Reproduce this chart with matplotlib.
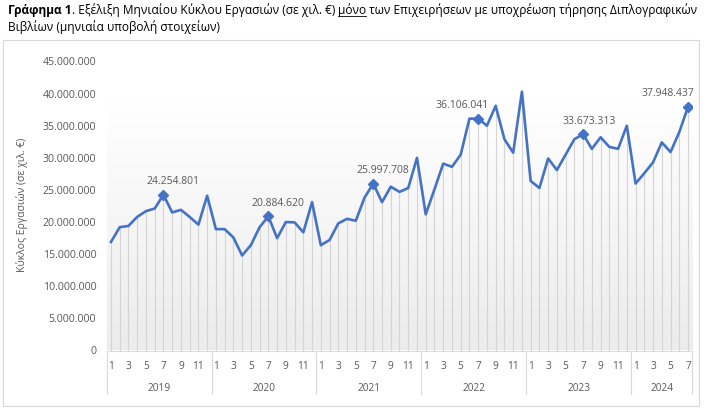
import numpy as np
import matplotlib
matplotlib.use('Agg')
import matplotlib.pyplot as plt
from matplotlib.patches import Rectangle
from matplotlib.lines import Line2D

plt.rcParams['font.family'] = ['Open Sans', 'DejaVu Sans']

# Δεδομένα: μηνιαίος κύκλος εργασιών (εκατ.), Ιαν 2019 - Ιουλ 2024
years = ['2019', '2020', '2021', '2022', '2023', '2024']
months_per_year = [12, 12, 12, 12, 12, 7]
v2019 = [16.9, 19.2, 19.4, 20.8, 21.7, 22.1, 24.254801, 21.5, 21.9, 20.8, 19.6, 24.1]
v2020 = [18.9, 18.9, 17.6, 14.8, 16.4, 19.2, 20.884620, 17.5, 20.0, 19.95, 18.4, 23.1]
v2021 = [16.4, 17.2, 19.8, 20.5, 20.2, 23.8, 25.997708, 23.1, 25.5, 24.7, 25.3, 30.0]
v2022 = [21.2, 25.1, 29.1, 28.6, 30.5, 36.1, 36.106041, 35.0, 38.1, 32.9, 30.8, 40.3]
v2023 = [26.4, 25.3, 29.9, 28.1, 30.5, 32.9, 33.673313, 31.4, 33.2, 31.7, 31.4, 35.0]
v2024 = [26.0, 27.6, 29.3, 32.4, 30.9, 34.0, 37.948437]
y_ticks = [0, 5, 10, 15, 20, 25, 30, 35, 40, 45]

values = np.array(v2019 + v2020 + v2021 + v2022 + v2023 + v2024) * 1e6
months = [m for n in months_per_year for m in range(1, n + 1)]
x = np.arange(len(values))
july = [i for i, m in enumerate(months) if m == 7]
# οριζόντια μετατόπιση ετικετών (pt), όπως στο πρωτότυπο
label_dx = [7, 7, 7, -11.5, 4.5, -14.5]

W, H = 708, 416
fig = plt.figure(figsize=(W / 100, H / 100), dpi=100)

# πλαίσιο γραφήματος
fig.patches.append(Rectangle((3 / W, 1 - 406 / H), 696 / W, 366 / H, transform=fig.transFigure,
                             fill=False, edgecolor='#d9d9d9', lw=0.8))

left, right, top, bottom = 106.6, 692.4, 61.5, 350.5
ax = fig.add_axes([left / W, 1 - bottom / H, (right - left) / W, (bottom - top) / H])
ax.set_xlim(-0.5, len(values) - 0.5)
ax.set_ylim(0, 45e6)

# διαβάθμιση φόντου
grad = np.linspace(1.0, 0.0, 256).reshape(-1, 1)
c_top = np.array([1.0, 1.0, 1.0])
c_bot = np.array([0.925, 0.925, 0.925])
img = c_bot + (c_top - c_bot) * grad[..., None]
ax.imshow(img, extent=(-0.5, len(values) - 0.5, 0, 39e6), aspect='auto', zorder=0)

ax.vlines(x, 0, values, color='#d4d4d4', lw=0.8, zorder=1)
ax.plot(x, values, color='#4472C4', lw=1.9, zorder=3, solid_joinstyle='round')
ax.plot(x[july], values[july], 'D', color='#4472C4', ms=5.5, zorder=4)

for i, dx in zip(july, label_dx):
    lbl = f"{round(values[i]):,}".replace(',', '.')
    ax.annotate(lbl, (x[i], values[i]), textcoords='offset points', xytext=(dx, 5.5),
                ha='center', va='bottom', fontsize=7.5, color='#595959', zorder=5)

for s in ['left', 'right', 'top']:
    ax.spines[s].set_visible(False)
ax.spines['bottom'].set_color('#d9d9d9')

ax.set_yticks([t * 1e6 for t in y_ticks])
ax.set_yticklabels([f"{t * 1000000:,}".replace(',', '.') for t in y_ticks])
ax.tick_params(axis='y', length=0, pad=7.5, labelsize=7.6, labelcolor='#595959')
ax.set_xticks([])

# άξονας κατηγοριών δύο επιπέδων
for i, m in enumerate(months):
    if m % 2 == 1:
        ax.annotate(str(m), (x[i], 0), xycoords=('data', 'axes fraction'),
                    textcoords='offset points', xytext=(0, -11.5), ha='center', va='center',
                    fontsize=7.3, color='#595959', annotation_clip=False)
start = 0
for yr, n in zip(years, months_per_year):
    ax.annotate(yr, (start + (n - 1) / 2, 0), xycoords=('data', 'axes fraction'),
                textcoords='offset points', xytext=(0, -27.5), ha='center', va='center',
                fontsize=7.3, color='#595959', annotation_clip=False)
    start += n
edges = [-0.5] + list(np.cumsum(months_per_year) - 0.5)
for e in edges:
    ax.plot([e, e], [0, -43 / (bottom - top)], transform=ax.get_xaxis_transform(),
            color='#d9d9d9', lw=0.8, clip_on=False)

fig.text(22 / W, 1 - 205 / H, 'Κύκλος Εργασιών (σε χιλ. €)', rotation=90, ha='center', va='center',
         fontsize=7.5, color='#595959')

# τίτλος
fs = 8.55
t1 = fig.text(8 / W, 1 - 14 / H, 'Γράφημα 1', fontsize=fs, weight='bold', va='baseline')
t2 = ax.annotate('. Εξέλιξη Μηνιαίου Κύκλου Εργασιών (σε χιλ. €) ', (1, 0), xycoords=t1,
                 va='bottom', ha='left', fontsize=fs, annotation_clip=False)
t3 = ax.annotate('μόνο', (1, 0), xycoords=t2, va='bottom', ha='left', fontsize=fs,
                 annotation_clip=False)
t4 = ax.annotate(' των Επιχειρήσεων με υποχρέωση τήρησης Διπλογραφικών', (1, 0), xycoords=t3,
                 va='bottom', ha='left', fontsize=fs, annotation_clip=False)
fig.text(8 / W, 1 - 31 / H, 'Βιβλίων (μηνιαία υποβολή στοιχείων)', fontsize=fs, va='baseline')

fig.canvas.draw()
bb = t3.get_window_extent().transformed(fig.transFigure.inverted())
fig.add_artist(Line2D([bb.x0, bb.x1], [bb.y0 + 0.6 / H, bb.y0 + 0.6 / H], transform=fig.transFigure,
                      color='black', lw=0.6))

fig.savefig('out.png', dpi=100)
